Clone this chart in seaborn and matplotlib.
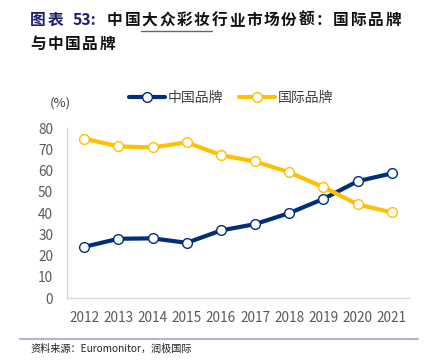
import seaborn as sns
import matplotlib.pyplot as plt
import pandas as pd

years = ['2012', '2013', '2014', '2015', '2016', '2017', '2018', '2019', '2020', '2021']
china = [24.1, 27.9, 28.1, 26.0, 31.8, 34.8, 40.0, 46.7, 55.0, 58.7]
intl = [75.1, 71.4, 70.9, 73.3, 67.3, 64.3, 59.2, 52.2, 44.1, 40.3]
series_names = ['中国品牌', '国际品牌']
colors = ['#002E7A', '#FFC000']

title_line1 = '中国大众彩妆行业市场份额：国际品牌'
title_line2 = '与中国品牌'
source = '资料来源：Euromonitor，润极国际'

sns.set_theme(style='white')
plt.rcParams['font.family'] = ['Noto Sans CJK SC', 'DejaVu Sans']

df = pd.DataFrame({'year': years * 2,
                   'value': china + intl,
                   'brand': [series_names[0]] * len(years) + [series_names[1]] * len(years)})

W, H = 430, 363
fig = plt.figure(figsize=(W / 100, H / 100), dpi=100)
ax = fig.add_axes([0.156, 0.179, 0.795, 0.468])

sns.lineplot(data=df, x='year', y='value', hue='brand', palette=colors, ax=ax,
             linewidth=3, marker='o', markersize=7, markerfacecolor='white',
             markeredgewidth=1.0, sort=False)
for line, c in zip(ax.lines, colors):
    line.set_markeredgecolor(c)

ax.set_ylim(0, 80)
ax.set_xlim(-0.5, 9.5)
ax.set_yticks(range(0, 81, 10))
ax.set_xlabel('')
ax.set_ylabel('')
ax.tick_params(axis='both', labelsize=9.8, colors='#595959', length=0)
ax.tick_params(axis='y', pad=10)
ax.tick_params(axis='x', pad=9)
for s in ['top', 'right']:
    ax.spines[s].set_visible(False)
for s in ['left', 'bottom']:
    ax.spines[s].set_color('#D9D9D9')
    ax.spines[s].set_linewidth(1)

leg = ax.legend(loc='center', bbox_to_anchor=(0.48, 1.18), ncol=2, frameon=False,
                fontsize=10, handlelength=2.6, columnspacing=1.1, handletextpad=0.2)
for t in leg.get_texts():
    t.set_color('#404040')
for h, c in zip(leg.legend_handles, colors):
    h.set_markeredgecolor(c)
    h.set_markerfacecolor('white')

fig.text(60 / W, 1 - 103 / H, '(%)', fontsize=9.5, color='#404040', ha='center', va='center')


# title, CJK drawn char by char to get the wide spacing
def spaced(text, x0, y, pitch, color):
    x = x0
    for ch in text:
        fig.text(x / W, 1 - y / H, ch, fontsize=11.3, fontweight='bold', color=color,
                 va='center', ha='left')
        x += pitch


spaced('图表', 30, 20, 17.5, '#1F1F6B')
fig.text(73 / W, 1 - 20 / H, '53:', fontsize=11.3, fontweight='bold', color='#1F1F6B',
         va='center', ha='left')
spaced(title_line1, 107, 20, 17.4, '#111111')
spaced(title_line2, 30, 44, 17.4, '#111111')
fig.add_artist(plt.Line2D([141 / W, 212 / W], [1 - 30.5 / H, 1 - 30.5 / H], color='#666666', linewidth=1))

# separator and source
fig.add_artist(plt.Line2D([20 / W, 418 / W], [1 - 339 / H, 1 - 339 / H], color='#B4B4D0', linewidth=1.5))
fig.text(30 / W, 1 - 349 / H, source, fontsize=7.3, color='#222222', va='center')

fig.savefig('out.png', dpi=100)
